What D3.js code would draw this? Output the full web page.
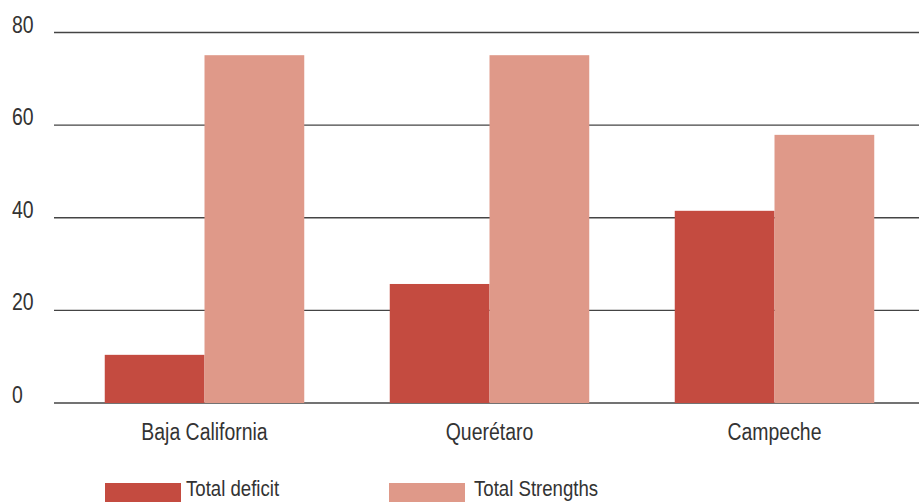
<!DOCTYPE html>
<html>
<head>
<meta charset="utf-8">
<script src="https://cdn.jsdelivr.net/npm/d3@7"></script>
<style>
  body { margin: 0; background: #fff; }
  text { font-family: "Liberation Sans", Arial, sans-serif; fill: #333; }
</style>
</head>
<body>
<script>
// Chart data
var categories = ['Baja California', 'Querétaro', 'Campeche'];
var seriesNames = ['Total deficit', 'Total Strengths'];
var deficit = [10.4, 25.7, 41.5];
var strengths = [75.1, 75.1, 57.9];
var yTicks = [0, 20, 40, 60, 80];

var colors = ['#C44B40', '#DF9989'];
var squeeze = 0.81; // fake a condensed face

var svg = d3.select('body').append('svg').attr('width', 919).attr('height', 502);

// Scales
var y = d3.scaleLinear().domain([0, 80]).range([403, 32.5]);
var x = d3.scaleBand().domain(categories).range([62, 917]).paddingInner(0.3).paddingOuter(0.15);
var xSub = d3.scaleBand().domain(seriesNames).range([0, x.bandwidth()]);

function place(px, py) {
  return 'translate(' + px + ',' + py + ') scale(' + squeeze + ',1)';
}

// Gridlines
svg.append('g')
  .selectAll('line')
  .data(yTicks)
  .enter()
  .append('line')
  .attr('x1', 54)
  .attr('x2', 919)
  .attr('y1', (d) => y(d))
  .attr('y2', (d) => y(d))
  .attr('stroke', '#444')
  .attr('stroke-width', 1.4);

// Y tick labels
svg.append('g')
  .selectAll('text')
  .data(yTicks)
  .enter()
  .append('text')
  .attr('transform', (d) => place(12, y(d)))
  .attr('font-size', 24)
  .text((d) => d);

// Bars
var rows = categories.map((c, i) => ({ cat: c, values: [deficit[i], strengths[i]] }));

var groups = svg.append('g')
  .selectAll('g')
  .data(rows)
  .enter()
  .append('g')
  .attr('transform', (d) => 'translate(' + x(d.cat) + ',0)');

groups.selectAll('rect')
  .data((d) => d.values.map((v, j) => ({ name: seriesNames[j], value: v, idx: j })))
  .enter()
  .append('rect')
  .attr('x', (d) => xSub(d.name))
  .attr('width', xSub.bandwidth())
  .attr('y', (d) => y(d.value))
  .attr('height', (d) => y(0) - y(d.value))
  .attr('fill', (d) => colors[d.idx]);

// Category labels
svg.append('g')
  .selectAll('text')
  .data(categories)
  .enter()
  .append('text')
  .attr('transform', (d) => place(x(d) + x.bandwidth() / 2, 440))
  .attr('text-anchor', 'middle')
  .attr('font-size', 24)
  .text((d) => d);

// Legend
var legendX = [105, 389];
var legend = svg.append('g')
  .selectAll('g')
  .data(seriesNames)
  .enter()
  .append('g')
  .attr('transform', (d, i) => 'translate(' + legendX[i] + ',483)');

legend.append('rect')
  .attr('width', 76)
  .attr('height', 20)
  .attr('fill', (d, i) => colors[i]);

legend.append('text')
  .attr('transform', (d, i) => place(i === 0 ? 81 : 85, 13))
  .attr('font-size', 23)
  .text((d) => d);
</script>
</body>
</html>
